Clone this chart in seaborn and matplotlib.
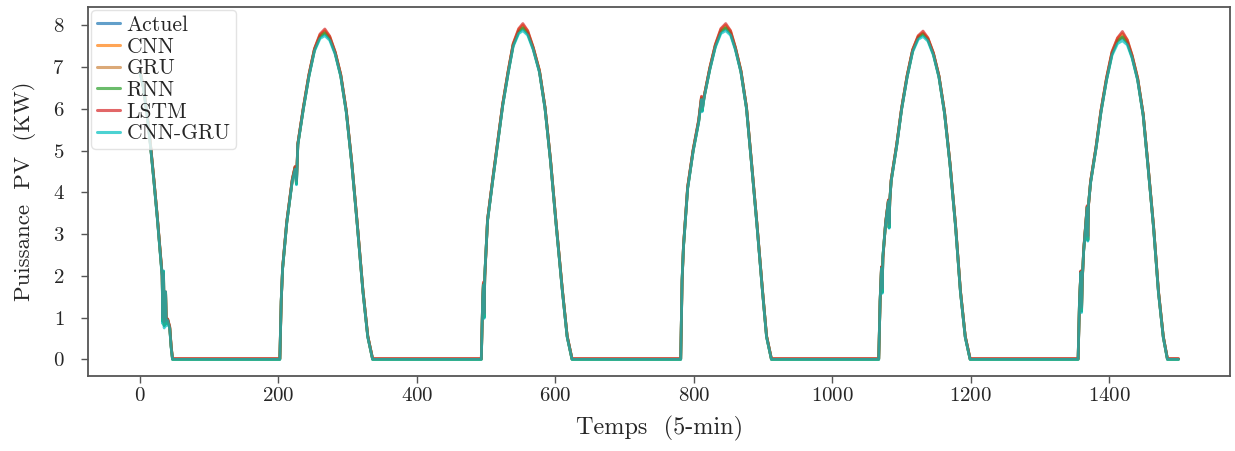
import numpy as np
import pandas as pd
import matplotlib
matplotlib.use("Agg")
import matplotlib.pyplot as plt
import seaborn as sns

# ---------------- data ----------------
temps = [
    0, 5, 10, 15, 20, 25, 30, 32, 33, 34, 35, 36, 37, 38, 40, 43, 45, 47,
    202, 204, 206, 212, 220, 224, 226, 228, 236, 244, 252, 260, 267, 274, 282, 290, 298, 306, 314, 322, 329, 336,
    493, 495, 496, 497, 498, 502, 510, 517, 524, 532, 539, 547, 553, 560, 568, 577, 585, 593, 601, 610, 617, 624,
    781, 783, 785, 791, 799, 807, 811, 812, 815, 823, 831, 839, 846, 853, 860, 868, 876, 883, 891, 899, 905, 912,
    1067, 1069, 1071, 1072, 1073, 1077, 1081, 1082, 1083, 1085, 1093, 1100, 1108, 1116, 1124, 1131, 1138, 1146,
    1154, 1162, 1170, 1178, 1185, 1192, 1199,
    1355, 1357, 1359, 1360, 1361, 1363, 1368, 1369, 1370, 1373, 1381, 1388, 1396, 1404, 1412, 1419, 1426, 1433,
    1441, 1449, 1456, 1464, 1471, 1478, 1484, 1500,
]

actuel = [
    6.90, 6.50, 5.90, 5.15, 4.30, 3.40, 2.40, 2.00, 0.90, 2.10, 0.80, 1.55, 1.60, 0.85, 0.95, 0.75, 0.30, 0.00,
    0.00, 1.40, 2.18, 3.28, 4.29, 4.60, 4.20, 5.15, 6.01, 6.79, 7.41, 7.72, 7.80, 7.68, 7.33, 6.79, 5.93, 4.68, 3.20, 1.64, 0.55, 0.00,
    0.00, 1.43, 1.80, 1.00, 2.00, 3.33, 4.36, 5.23, 6.10, 6.89, 7.52, 7.84, 7.92, 7.80, 7.44, 6.89, 6.02, 4.75, 3.25, 1.66, 0.55, 0.00,
    0.00, 1.90, 2.70, 4.10, 5.00, 5.70, 6.25, 5.95, 6.30, 6.95, 7.50, 7.84, 7.92, 7.80, 7.44, 6.89, 6.02, 4.75, 3.25, 1.66, 0.55, 0.00,
    0.00, 1.40, 2.20, 1.60, 2.45, 3.27, 3.80, 3.15, 3.80, 4.28, 5.13, 5.99, 6.77, 7.39, 7.70, 7.78, 7.66, 7.31,
    6.77, 5.91, 4.67, 3.19, 1.63, 0.54, 0.00,
    0.00, 1.39, 2.10, 1.15, 1.90, 2.60, 3.65, 2.85, 3.70, 4.24, 5.08, 5.93, 6.70, 7.32, 7.62, 7.70, 7.58, 7.24,
    6.70, 5.85, 4.62, 3.16, 1.62, 0.54, 0.00, 0.00,
]

cnn = [
    6.91, 6.51, 5.92, 5.17, 4.32, 3.41, 2.42, 2.03, 0.95, 2.08, 0.85, 1.52, 1.61, 0.90, 0.96, 0.77, 0.32, 0.01,
    0.01, 1.39, 2.19, 3.29, 4.31, 4.61, 4.24, 5.16, 6.03, 6.82, 7.43, 7.77, 7.87, 7.73, 7.35, 6.82, 5.95, 4.70, 3.22, 1.66, 0.56, 0.01,
    0.01, 1.42, 1.82, 1.05, 1.98, 3.34, 4.38, 5.25, 6.12, 6.93, 7.55, 7.90, 8.00, 7.86, 7.47, 6.92, 6.04, 4.77, 3.27, 1.68, 0.56, 0.01,
    0.01, 1.88, 2.71, 4.12, 5.02, 5.72, 6.28, 6.00, 6.31, 6.98, 7.53, 7.90, 8.00, 7.86, 7.47, 6.92, 6.04, 4.77, 3.27, 1.68, 0.56, 0.01,
    0.01, 1.39, 2.21, 1.65, 2.43, 3.28, 3.81, 3.20, 3.79, 4.30, 5.15, 6.01, 6.80, 7.41, 7.74, 7.82, 7.69, 7.33,
    6.79, 5.93, 4.69, 3.21, 1.65, 0.55, 0.01,
    0.01, 1.38, 2.11, 1.20, 1.88, 2.61, 3.66, 2.90, 3.69, 4.26, 5.10, 5.96, 6.74, 7.36, 7.69, 7.80, 7.65, 7.28,
    6.74, 5.87, 4.64, 3.18, 1.64, 0.55, 0.01, 0.01,
]

gru = [
    6.90, 6.51, 5.91, 5.16, 4.31, 3.41, 2.41, 2.02, 0.92, 2.09, 0.82, 1.54, 1.60, 0.87, 0.95, 0.76, 0.31, 0.01,
    0.01, 1.40, 2.18, 3.28, 4.30, 4.60, 4.22, 5.15, 6.02, 6.80, 7.42, 7.75, 7.84, 7.71, 7.34, 6.80, 5.94, 4.69, 3.21, 1.65, 0.55, 0.01,
    0.01, 1.43, 1.81, 1.02, 1.99, 3.33, 4.37, 5.24, 6.11, 6.91, 7.54, 7.87, 7.96, 7.83, 7.45, 6.90, 6.03, 4.76, 3.26, 1.67, 0.55, 0.01,
    0.01, 1.89, 2.70, 4.11, 5.01, 5.71, 6.26, 5.97, 6.30, 6.96, 7.52, 7.87, 7.96, 7.83, 7.45, 6.90, 6.03, 4.76, 3.26, 1.67, 0.55, 0.01,
    0.01, 1.40, 2.20, 1.62, 2.44, 3.27, 3.80, 3.17, 3.80, 4.29, 5.14, 6.00, 6.78, 7.40, 7.72, 7.80, 7.67, 7.32,
    6.78, 5.92, 4.68, 3.20, 1.64, 0.54, 0.01,
    0.01, 1.39, 2.10, 1.17, 1.89, 2.60, 3.65, 2.87, 3.70, 4.25, 5.09, 5.94, 6.71, 7.34, 7.65, 7.75, 7.61, 7.26,
    6.72, 5.86, 4.63, 3.17, 1.63, 0.54, 0.01, 0.01,
]

rnn = [
    6.89, 6.50, 5.90, 5.15, 4.30, 3.40, 2.40, 2.01, 0.91, 2.10, 0.81, 1.55, 1.60, 0.86, 0.95, 0.75, 0.30, 0.00,
    0.00, 1.40, 2.18, 3.28, 4.29, 4.60, 4.21, 5.15, 6.01, 6.79, 7.41, 7.73, 7.82, 7.69, 7.33, 6.79, 5.93, 4.68, 3.20, 1.64, 0.55, 0.00,
    0.00, 1.43, 1.80, 1.01, 2.00, 3.33, 4.36, 5.23, 6.10, 6.89, 7.52, 7.85, 7.94, 7.81, 7.44, 6.89, 6.02, 4.75, 3.25, 1.66, 0.55, 0.00,
    0.00, 1.90, 2.70, 4.10, 5.00, 5.70, 6.25, 5.96, 6.30, 6.95, 7.50, 7.85, 7.94, 7.81, 7.44, 6.89, 6.02, 4.75, 3.25, 1.66, 0.55, 0.00,
    0.00, 1.40, 2.20, 1.61, 2.45, 3.27, 3.80, 3.16, 3.80, 4.28, 5.13, 5.99, 6.77, 7.39, 7.71, 7.79, 7.66, 7.31,
    6.77, 5.91, 4.67, 3.19, 1.63, 0.54, 0.00,
    0.00, 1.39, 2.10, 1.16, 1.90, 2.60, 3.65, 2.86, 3.70, 4.24, 5.08, 5.93, 6.70, 7.32, 7.63, 7.72, 7.59, 7.24,
    6.70, 5.85, 4.62, 3.16, 1.62, 0.54, 0.00, 0.00,
]

lstm = [
    6.92, 6.52, 5.93, 5.18, 4.33, 3.42, 2.43, 2.05, 1.00, 2.05, 0.90, 1.50, 1.62, 0.95, 0.97, 0.78, 0.33, 0.02,
    0.02, 1.38, 2.20, 3.30, 4.32, 4.62, 4.28, 5.17, 6.04, 6.82, 7.44, 7.79, 7.91, 7.74, 7.36, 6.82, 5.96, 4.70, 3.22, 1.66, 0.56, 0.02,
    0.02, 1.40, 1.85, 1.10, 1.95, 3.35, 4.39, 5.26, 6.13, 6.92, 7.56, 7.92, 8.04, 7.87, 7.47, 6.91, 6.04, 4.77, 3.27, 1.68, 0.56, 0.02,
    0.02, 1.85, 2.72, 4.13, 5.03, 5.74, 6.30, 6.05, 6.32, 6.98, 7.54, 7.92, 8.04, 7.87, 7.47, 6.91, 6.04, 4.77, 3.27, 1.68, 0.56, 0.02,
    0.02, 1.38, 2.22, 1.70, 2.40, 3.29, 3.82, 3.25, 3.78, 4.30, 5.15, 6.01, 6.79, 7.42, 7.75, 7.86, 7.70, 7.34,
    6.79, 5.93, 4.69, 3.21, 1.65, 0.55, 0.02,
    0.02, 1.37, 2.12, 1.25, 1.85, 2.62, 3.68, 2.95, 3.68, 4.26, 5.10, 5.96, 6.74, 7.37, 7.70, 7.85, 7.65, 7.28,
    6.73, 5.87, 4.64, 3.18, 1.64, 0.55, 0.02, 0.02,
]

cnn_gru = [
    6.88, 6.48, 5.88, 5.13, 4.28, 3.38, 2.38, 1.98, 0.85, 2.12, 0.75, 1.58, 1.62, 0.80, 0.93, 0.73, 0.28, 0.00,
    0.00, 1.42, 2.17, 3.26, 4.27, 4.55, 4.18, 5.13, 5.99, 6.77, 7.38, 7.68, 7.75, 7.64, 7.30, 6.77, 5.91, 4.66, 3.18, 1.62, 0.53, 0.00,
    0.00, 1.45, 1.78, 0.98, 2.02, 3.31, 4.34, 5.21, 6.08, 6.87, 7.49, 7.80, 7.87, 7.76, 7.41, 6.87, 6.00, 4.73, 3.23, 1.64, 0.53, 0.00,
    0.00, 1.92, 2.68, 4.08, 4.98, 5.68, 6.22, 5.93, 6.28, 6.93, 7.47, 7.80, 7.87, 7.76, 7.41, 6.87, 6.00, 4.73, 3.23, 1.64, 0.53, 0.00,
    0.00, 1.42, 2.18, 1.58, 2.47, 3.25, 3.78, 3.14, 3.82, 4.26, 5.11, 5.97, 6.75, 7.36, 7.66, 7.73, 7.62, 7.28,
    6.75, 5.89, 4.65, 3.17, 1.61, 0.52, 0.00,
    0.00, 1.41, 2.08, 1.12, 1.92, 2.58, 3.63, 2.83, 3.72, 4.22, 5.06, 5.91, 6.68, 7.28, 7.56, 7.63, 7.53, 7.21,
    6.68, 5.83, 4.60, 3.14, 1.60, 0.52, 0.00, 0.00,
]

series_names = ["Actuel", "CNN", "GRU", "RNN", "LSTM", "CNN-GRU"]
series_values = [actuel, cnn, gru, rnn, lstm, cnn_gru]
colors = ["#1f77b4", "#ff7f0e", "peru", "#2ca02c", "#d62728", "c"]

x_ticks = [0, 200, 400, 600, 800, 1000, 1200, 1400]
y_ticks = [0, 1, 2, 3, 4, 5, 6, 7, 8]

# ---------------- style ----------------
sns.set_style("white")
plt.rcParams["font.family"] = "serif"
plt.rcParams["font.serif"] = ["cmr10", "DejaVu Serif"]
plt.rcParams["mathtext.fontset"] = "cm"
plt.rcParams["axes.formatter.use_mathtext"] = True
plt.rcParams["axes.unicode_minus"] = False

frames = []
for name, vals in zip(series_names, series_values):
    frames.append(pd.DataFrame({"Temps": temps, "Puissance": vals, "Modele": name}))
df = pd.concat(frames, ignore_index=True)

fig = plt.figure(figsize=(12.35, 4.51), dpi=100)
ax = fig.add_axes([0.0713, 0.166, 0.925, 0.819])

sns.lineplot(data=df, x="Temps", y="Puissance", hue="Modele", hue_order=series_names,
             palette=dict(zip(series_names, colors)), estimator=None, sort=False,
             linewidth=2.0, alpha=0.7, ax=ax, legend=True)

ax.set_xticks(x_ticks)
ax.set_yticks(y_ticks)
ax.set_xlabel("Temps  (5-min)", fontsize=17.5, labelpad=8)
ax.set_ylabel("Puissance  PV  (KW)", fontsize=16.5, labelpad=12)
ax.tick_params(axis="both", labelsize=15, direction="out", length=5, width=1,
               color="#555555", bottom=True, left=True)
ax.tick_params(axis="x", pad=3)
ax.tick_params(axis="y", pad=12)

for sp in ax.spines.values():
    sp.set_visible(True)
    sp.set_color("#555555")
    sp.set_linewidth(1.3)

handles, labels = ax.get_legend_handles_labels()
leg = ax.legend(handles, labels, loc="upper left", fontsize=15.5, frameon=True,
                handlelength=1.1, handletextpad=0.3, labelspacing=0.1,
                borderpad=0.25, borderaxespad=0.15, fancybox=True, framealpha=0.8)
leg.get_frame().set_edgecolor("#dddddd")
for lh in leg.get_lines():
    lh.set_linewidth(2.2)

fig.savefig("out.png", dpi=100)
